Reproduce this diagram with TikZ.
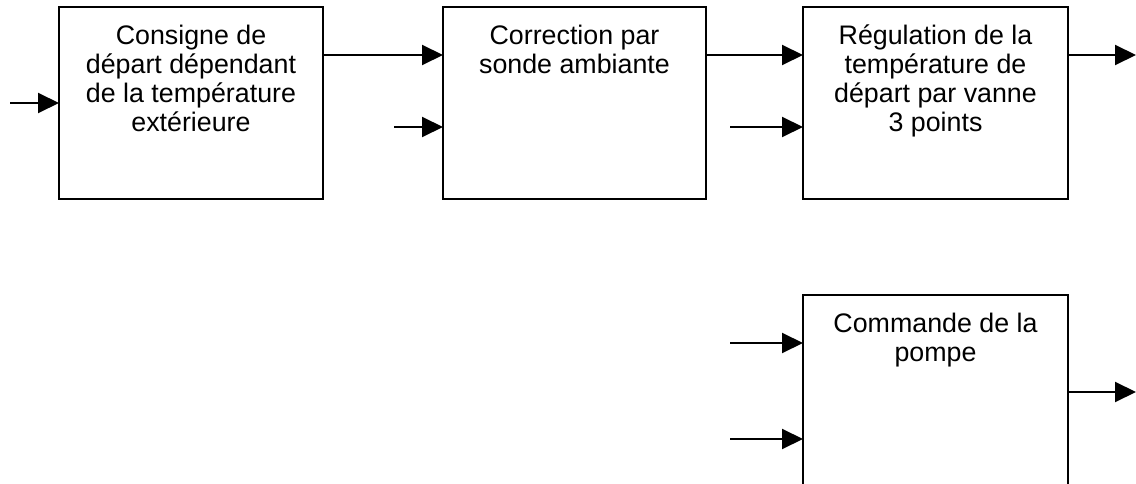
\documentclass[tikz,border=0pt]{standalone}
\usepackage{fontspec}
\setmainfont{Liberation Sans}
\usetikzlibrary{arrows.meta}
\tikzset{
  block/.style={draw, rectangle, line width=2pt, minimum width=#1,
    minimum height=192pt, inner sep=0pt, outer sep=0pt},
  lbl/.style={align=center, inner sep=0pt, anchor=north,
    font=\fontsize{26.8}{29}\selectfont},
  arr/.style={line width=2pt, -{Triangle[length=21pt,width=20pt]}},
}
\begin{document}
\begin{tikzpicture}[x=1pt,y=-1pt]
\useasboundingbox (0,0) rectangle (1136,484);
\clip (0,0) rectangle (1136,484);

% function blocks
\node[block=264pt] (b1) at (191,103) {};
\node[block=263pt] (b2) at (574.5,103) {};
\node[block=265pt] (b3) at (935.5,103) {};
\node[block=265pt, minimum height=205pt] (b4) at (935.5,397.5) {};

% block titles
\node[lbl] (t1) at ([yshift=-18pt]b1.north) {Consigne de\\départ dépendant\\de la température\\extérieure};
\node[lbl] (t2) at ([yshift=-18pt]b2.north) {Correction par\\sonde ambiante};
\node[lbl] (t3) at ([yshift=-18pt]b3.north) {Régulation de la\\température de\\départ par vanne\\3 points};
\node[lbl] (t4) at ([yshift=-18pt]b4.north) {Commande de la\\pompe};

% signal levels and free ends
\coordinate (top) at (0,55);
\coordinate (in1) at (10,103);
\coordinate (in2) at (394,127);
\coordinate (in3) at (730,127);
\coordinate (out3) at (1136,55);
\coordinate (in4a) at (730,343);
\coordinate (in4b) at (730,439);
\coordinate (out4) at (1136,392);

% signal flow
\draw[arr] (in1) -- (b1.west);
\draw[arr] (b1.east |- top) -- (b2.west |- top);
\draw[arr] (in2) -- (b2.west |- in2);
\draw[arr] (b2.east |- top) -- (b3.west |- top);
\draw[arr] (in3) -- (b3.west |- in3);
\draw[arr] (b3.east |- top) -- (out3);
\draw[arr] (in4a) -- (b4.west |- in4a);
\draw[arr] (in4b) -- (b4.west |- in4b);
\draw[arr] (b4.east |- out4) -- (out4);
\end{tikzpicture}
\end{document}
